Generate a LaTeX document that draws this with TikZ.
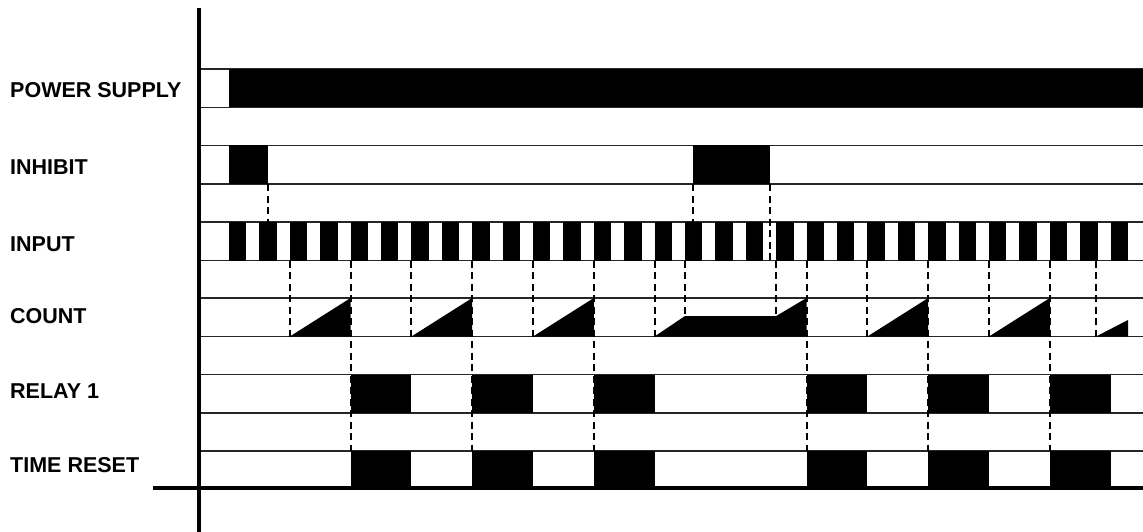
\documentclass[tikz,border=0pt]{standalone}
\usepackage{fontspec}
\setmainfont{Liberation Sans}
\usetikzlibrary{calc}
\tikzset{
  rowline/.style={line width=1.4pt,black!85},
  axisline/.style={line width=3.3pt,black},
  guide/.style={line width=2pt,dash pattern=on 7pt off 4.5pt},
  rowlabel/.style={anchor=base west,inner sep=0pt,font=\bfseries\fontsize{21.5}{21.5}\selectfont}
}
\newcommand{\px}{30.4}

\begin{document}
\begin{tikzpicture}[x=1pt,y=-1pt]
  \useasboundingbox (0,0) rectangle (1143,532);
  \foreach \t in {69,145.5,222,298,374.5,451} {
    \draw[rowline] (199,\t) -- (1143,\t);
    \draw[rowline] (199,\t+38.5) -- (1143,\t+38.5);
  }
  % guide lines
  \draw[guide] (268,184) -- (268,222);
  \draw[guide] (693,184) -- (693,222);
  \draw[guide] (770,184) -- (770,260.5);
  \foreach \k in {2,6,10,14,21,25} \draw[guide] ({229+\k*\px},260.5) -- ({229+\k*\px},336.5);
  \foreach \k in {4,8,12,19,23,27} \draw[guide] ({229+\k*\px},260.5) -- ({229+\k*\px},451);
  \draw[guide] (685,260.5) -- (685,316);
  \draw[guide] (776.2,260.5) -- (776.2,316);
  \draw[guide] (1096,260.5) -- (1096,336.5);
  % signals
  \fill (229,69) rectangle (1143,107.5);
  \fill (229,145.5) rectangle (268,184);
  \fill (693,145.5) rectangle (770,184);
  \foreach \k in {0,...,29} \fill ({229+\k*\px},222) rectangle ++(17.4,38.5);
  \foreach \k in {2,6,10,21,25} \fill ({229+\k*\px},336.5) -- ++(60.8,-38.5) -- ++(0,38.5) -- cycle;
  \fill (654.6,336.5) -- (685,316) -- (776.2,316) -- (806.6,298) -- (806.6,336.5) -- cycle;
  \fill (1096,336.5) -- (1128,320) -- (1128,336.5) -- cycle;
  \foreach \k in {4,8,12,19,23,27} {
    \fill ({229+\k*\px},374.5) rectangle ++(60.8,38.5);
    \fill ({229+\k*\px},451) rectangle ++(60.8,37);
  }
  \draw[axisline] (199,8) -- (199,532);
  \draw[axisline] (153,488) -- (1143,488);
  \node[rowlabel] (power) at (10,98) {POWER SUPPLY};
  \node[rowlabel] (inhibit) at (10,174) {INHIBIT};
  \node[rowlabel] (input) at (10,251) {INPUT};
  \node[rowlabel] (count) at (10,323) {COUNT};
  \node[rowlabel] (relay) at (10,398) {RELAY 1};
  \node[rowlabel] (reset) at (10,472) {TIME RESET};
\end{tikzpicture}
\end{document}
